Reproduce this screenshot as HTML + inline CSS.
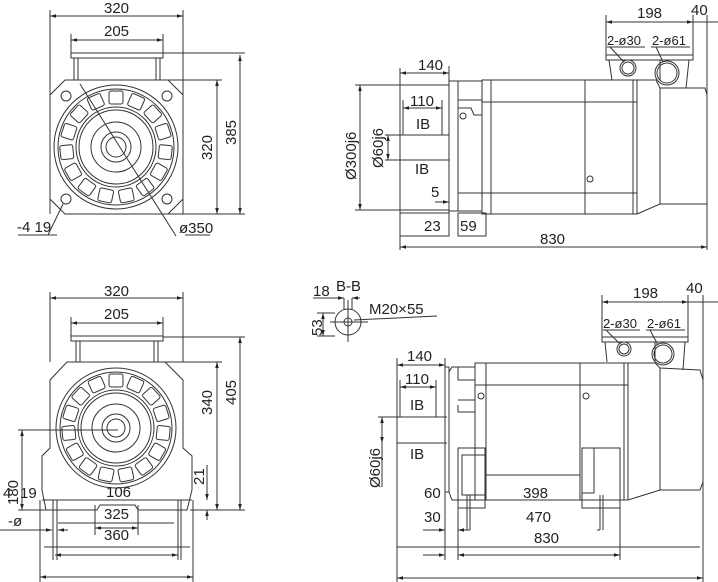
<!DOCTYPE html>
<html><head><meta charset="utf-8"><style>
html,body{margin:0;padding:0;background:#fff;}
svg{display:block;}
text{font-family:"Liberation Sans",sans-serif;fill:#222;font-size:15px;}
.s{font-size:13px;}
</style></head><body>
<svg width="718" height="582" viewBox="0 0 718 582" xmlns="http://www.w3.org/2000/svg">
<defs>
<marker id="a" viewBox="0 0 10 10" refX="10" refY="5" markerWidth="6" markerHeight="6" orient="auto-start-reverse"><path d="M0,2 L10,5 L0,8z" fill="#222"/></marker>
</defs>
<g stroke="#333" stroke-width="1" fill="none">
<!-- ===== TOP LEFT ===== -->
<line x1="50" y1="10" x2="50" y2="214"/><line x1="183" y1="10" x2="183" y2="214"/>
<line x1="50" y1="16" x2="183" y2="16" marker-start="url(#a)" marker-end="url(#a)"/>
<line x1="71" y1="34" x2="71" y2="55"/><line x1="163" y1="34" x2="163" y2="55"/>
<line x1="71" y1="40" x2="163" y2="40" marker-start="url(#a)" marker-end="url(#a)"/>
<rect x="71" y="53" width="92" height="5"/>
<line x1="74" y1="58" x2="74" y2="80"/><line x1="78" y1="58" x2="78" y2="80"/>
<line x1="156" y1="58" x2="156" y2="80"/><line x1="160" y1="58" x2="160" y2="80"/>
<polygon points="65,80 168,80 183,95 183,199 168,214 65,214 50,199 50,95"/>
<line x1="163" y1="53" x2="245" y2="53"/><line x1="168" y1="80" x2="222" y2="80"/><line x1="168" y1="214" x2="245" y2="214"/>
<line x1="217" y1="80" x2="217" y2="214" marker-start="url(#a)" marker-end="url(#a)"/>
<line x1="240" y1="55" x2="240" y2="214" marker-start="url(#a)" marker-end="url(#a)"/>
<circle cx="116" cy="147" r="62"/><circle cx="116" cy="147" r="58"/>
<circle cx="116" cy="147" r="40"/><circle cx="116" cy="147" r="37"/>
<circle cx="116" cy="147" r="25"/><circle cx="116" cy="147" r="15"/><circle cx="116" cy="147" r="10"/>
<g stroke-width="1.2">
<circle cx="116" cy="147" r="49" stroke-dasharray="12 5" stroke-width="9" stroke="#555" opacity="0.0"/>
</g>
<circle cx="66" cy="96" r="5"/><circle cx="167" cy="96" r="5"/><circle cx="66" cy="199" r="5"/><circle cx="167" cy="199" r="5"/>
<line x1="80" y1="84" x2="176" y2="236"/>
<line x1="18" y1="235" x2="57" y2="235"/><line x1="48" y1="235" x2="63" y2="204"/>
<line x1="185" y1="235" x2="210" y2="235"/>
<!-- ===== TOP RIGHT ===== -->
<line x1="400" y1="68" x2="400" y2="250"/>
<line x1="400" y1="73" x2="449" y2="73" marker-start="url(#a)" marker-end="url(#a)"/>
<line x1="449" y1="66" x2="449" y2="236"/>
<line x1="403" y1="100" x2="403" y2="135"/>
<line x1="403" y1="108" x2="442" y2="108" marker-start="url(#a)" marker-end="url(#a)"/>
<line x1="442" y1="100" x2="442" y2="135"/>
<line x1="400" y1="135" x2="449" y2="135"/><line x1="400" y1="160" x2="449" y2="160"/>
<line x1="355" y1="85" x2="449" y2="85"/><line x1="355" y1="210" x2="449" y2="210"/>
<line x1="360" y1="85" x2="360" y2="210" marker-start="url(#a)" marker-end="url(#a)"/>
<line x1="385" y1="135" x2="400" y2="135"/><line x1="385" y1="160" x2="400" y2="160"/>
<line x1="388" y1="135" x2="388" y2="160" marker-start="url(#a)" marker-end="url(#a)"/>
<rect x="449" y="81" width="9" height="130"/>
<rect x="458" y="81" width="24" height="130"/>
<line x1="458" y1="100" x2="482" y2="100"/><line x1="458" y1="193" x2="482" y2="193"/>
<path d="M458,108 L471,108 L474,115 L482,115"/><circle cx="463" cy="116" r="3"/>
<rect x="482" y="80" width="155" height="134"/>
<line x1="491" y1="80" x2="491" y2="214"/><line x1="585" y1="80" x2="585" y2="214"/><line x1="633" y1="80" x2="633" y2="214"/>
<line x1="482" y1="102" x2="637" y2="102"/><line x1="482" y1="193" x2="637" y2="193"/>
<circle cx="590" cy="179" r="3"/>
<path d="M637,80 L656,80 L660,88 L705,88 L707,95 L707,204 L660,204 L637,214"/>
<line x1="660" y1="88" x2="660" y2="204"/>
<rect x="606" y="55" width="87" height="5"/>
<path d="M609,60 L612,80 M689,60 L686,88 M660,80 L660,60"/>
<circle cx="628" cy="68" r="8"/><circle cx="628" cy="68" r="6"/>
<circle cx="667" cy="73" r="12"/><circle cx="667" cy="73" r="10"/>
<line x1="606" y1="15" x2="606" y2="55"/><line x1="693" y1="15" x2="693" y2="55"/><line x1="707" y1="15" x2="707" y2="250"/>
<line x1="606" y1="22" x2="693" y2="22" marker-start="url(#a)" marker-end="url(#a)"/>
<line x1="693" y1="22" x2="718" y2="22"/>
<line x1="607" y1="47" x2="645" y2="47"/><line x1="651" y1="47" x2="690" y2="47"/>
<line x1="610" y1="47" x2="624" y2="62"/><line x1="656" y1="47" x2="663" y2="62"/>
<rect x="400" y="213" width="49" height="23"/><rect x="458" y="213" width="28" height="23"/>
<line x1="435" y1="202" x2="449" y2="202" marker-end="url(#a)"/>
<line x1="400" y1="247" x2="707" y2="247" marker-start="url(#a)" marker-end="url(#a)"/>
<!-- ===== BOTTOM LEFT ===== -->
<line x1="50" y1="292" x2="50" y2="362"/><line x1="183" y1="292" x2="183" y2="362"/>
<line x1="50" y1="298" x2="183" y2="298" marker-start="url(#a)" marker-end="url(#a)"/>
<line x1="71" y1="317" x2="71" y2="338"/><line x1="163" y1="317" x2="163" y2="338"/>
<line x1="71" y1="323" x2="163" y2="323" marker-start="url(#a)" marker-end="url(#a)"/>
<rect x="71" y="336" width="92" height="5"/>
<line x1="76" y1="341" x2="76" y2="362"/><line x1="80" y1="341" x2="80" y2="362"/>
<line x1="154" y1="341" x2="154" y2="362"/><line x1="158" y1="341" x2="158" y2="362"/>
<path d="M67,362 L165,362 L183,380 L183,448 L192,456 L192,490 L187,510 L138,510 L135,505 L100,505 L97,510 L46,510 L42,490 L42,456 L50,448 L50,380 Z"/>
<line x1="42" y1="500" x2="192" y2="500"/>
<line x1="163" y1="337" x2="245" y2="337"/><line x1="165" y1="362" x2="222" y2="362"/><line x1="190" y1="510" x2="245" y2="510"/>
<line x1="217" y1="362" x2="217" y2="510" marker-start="url(#a)" marker-end="url(#a)"/>
<line x1="240" y1="337" x2="240" y2="510" marker-start="url(#a)" marker-end="url(#a)"/>
<line x1="207" y1="465" x2="207" y2="500" marker-end="url(#a)"/><line x1="207" y1="510" x2="207" y2="520" marker-start="url(#a)"/>
<circle cx="116" cy="428" r="60"/><circle cx="116" cy="428" r="56"/>
<circle cx="116" cy="428" r="38"/><circle cx="116" cy="428" r="35"/>
<circle cx="116" cy="428" r="24"/><circle cx="116" cy="428" r="14"/><circle cx="116" cy="428" r="9"/>
<line x1="18" y1="430" x2="118" y2="430"/>
<line x1="22" y1="430" x2="22" y2="510" marker-start="url(#a)" marker-end="url(#a)"/>
<line x1="18" y1="510" x2="46" y2="510"/>
<line x1="40" y1="500" x2="40" y2="582"/><line x1="193" y1="500" x2="193" y2="582"/>
<line x1="53" y1="500" x2="53" y2="560"/><line x1="57" y1="500" x2="57" y2="560"/>
<line x1="178" y1="500" x2="178" y2="560"/><line x1="181" y1="500" x2="181" y2="560"/>
<line x1="95" y1="505" x2="95" y2="535"/><line x1="138" y1="505" x2="138" y2="535"/>
<line x1="95" y1="528" x2="138" y2="528" marker-start="url(#a)" marker-end="url(#a)"/>
<line x1="0" y1="530" x2="52" y2="530" marker-end="url(#a)"/><line x1="58" y1="530" x2="68" y2="530" marker-start="url(#a)"/>
<line x1="58" y1="523" x2="174" y2="523"/>
<line x1="44" y1="547" x2="190" y2="547"/>
<line x1="55" y1="555" x2="178" y2="555" marker-start="url(#a)" marker-end="url(#a)"/>
<line x1="40" y1="577" x2="193" y2="577" marker-start="url(#a)" marker-end="url(#a)"/>
<!-- ===== BOTTOM RIGHT ===== -->
<circle cx="348" cy="322" r="13"/><circle cx="348" cy="322" r="4"/>
<line x1="348" y1="300" x2="348" y2="342"/><line x1="330" y1="322" x2="368" y2="322"/>
<line x1="344" y1="298" x2="344" y2="309"/><line x1="352" y1="298" x2="352" y2="309"/>
<line x1="313" y1="298" x2="344" y2="298" marker-end="url(#a)"/><line x1="352" y1="298" x2="360" y2="298" marker-start="url(#a)"/>
<line x1="354" y1="320" x2="437" y2="316"/>
<line x1="317" y1="313" x2="335" y2="313"/><line x1="317" y1="336" x2="335" y2="336"/>
<line x1="323" y1="313" x2="323" y2="336" marker-start="url(#a)" marker-end="url(#a)"/>
<line x1="397" y1="358" x2="397" y2="582"/>
<line x1="397" y1="365" x2="445" y2="365" marker-start="url(#a)" marker-end="url(#a)"/>
<line x1="445" y1="358" x2="445" y2="560"/>
<line x1="400" y1="380" x2="400" y2="417"/><line x1="436" y1="380" x2="436" y2="417"/>
<line x1="400" y1="387" x2="436" y2="387" marker-start="url(#a)" marker-end="url(#a)"/>
<line x1="378" y1="417" x2="447" y2="417"/><line x1="397" y1="443" x2="447" y2="443"/>
<line x1="382" y1="417" x2="382" y2="487" /><line x1="382" y1="417" x2="382" y2="443" marker-start="url(#a)" marker-end="url(#a)"/>
<rect x="445" y="367" width="4" height="125"/>
<path d="M449,372 L452,367 L475,367 L475,500 L452,500 L449,492"/>
<path d="M458,367 L458,380 L475,380 M458,400 L475,400 M458,405 L458,412 L475,412"/>
<rect x="475" y="363" width="153" height="137"/>
<line x1="486" y1="363" x2="486" y2="500"/><line x1="580" y1="363" x2="580" y2="500"/>
<line x1="475" y1="385" x2="628" y2="385"/><line x1="486" y1="475" x2="580" y2="475"/>
<circle cx="481" cy="396" r="3"/><circle cx="586" cy="396" r="3"/>
<path d="M628,363 L655,363 L660,368 L700,370 L703,380 L703,482 L700,490 L660,490 L628,500"/>
<line x1="624" y1="363" x2="624" y2="500"/><line x1="660" y1="368" x2="660" y2="490"/>
<rect x="458" y="448" width="27" height="60"/><rect x="462" y="455" width="23" height="40"/>
<rect x="582" y="448" width="38" height="60"/><rect x="582" y="448" width="12" height="45"/>
<line x1="463" y1="500" x2="620" y2="500"/>
<line x1="467" y1="495" x2="467" y2="530"/><line x1="470" y1="495" x2="470" y2="530"/>
<line x1="600" y1="495" x2="600" y2="530"/><line x1="603" y1="495" x2="603" y2="530"/>
<line x1="458" y1="508" x2="458" y2="560"/><line x1="620" y1="508" x2="620" y2="560"/>
<rect x="602" y="337" width="86" height="5"/>
<path d="M605,342 L607,362 M685,342 L683,370 M655,362 L655,342"/>
<circle cx="624" cy="349" r="7"/><circle cx="624" cy="349" r="5"/>
<circle cx="663" cy="354" r="11"/><circle cx="663" cy="354" r="9"/>
<line x1="602" y1="295" x2="602" y2="337"/><line x1="688" y1="295" x2="688" y2="337"/><line x1="703" y1="295" x2="703" y2="582"/>
<line x1="602" y1="302" x2="688" y2="302" marker-start="url(#a)" marker-end="url(#a)"/>
<line x1="688" y1="302" x2="718" y2="302"/>
<line x1="603" y1="330" x2="640" y2="330"/><line x1="646" y1="330" x2="685" y2="330"/>
<line x1="606" y1="330" x2="620" y2="344"/><line x1="650" y1="330" x2="658" y2="345"/>
<line x1="423" y1="530" x2="445" y2="530" marker-end="url(#a)"/><line x1="458" y1="530" x2="470" y2="530" marker-start="url(#a)"/>
<line x1="597" y1="530" x2="600" y2="530"/>
<line x1="397" y1="547" x2="700" y2="547"/>
<line x1="423" y1="555" x2="445" y2="555" marker-end="url(#a)"/><line x1="458" y1="555" x2="620" y2="555" marker-start="url(#a)" marker-end="url(#a)"/>
<line x1="397" y1="578" x2="703" y2="578" marker-start="url(#a)" marker-end="url(#a)"/>
</g>
<!-- window ring top-left -->
<g fill="none" stroke="#333" stroke-width="1">
<g transform="translate(116,147)">
<rect x="-7" y="-56" width="14" height="13" rx="2" transform="rotate(0)"/>
<rect x="-7" y="-56" width="14" height="13" rx="2" transform="rotate(24)"/>
<rect x="-7" y="-56" width="14" height="13" rx="2" transform="rotate(48)"/>
<rect x="-7" y="-56" width="14" height="13" rx="2" transform="rotate(72)"/>
<rect x="-7" y="-56" width="14" height="13" rx="2" transform="rotate(96)"/>
<rect x="-7" y="-56" width="14" height="13" rx="2" transform="rotate(120)"/>
<rect x="-7" y="-56" width="14" height="13" rx="2" transform="rotate(144)"/>
<rect x="-7" y="-56" width="14" height="13" rx="2" transform="rotate(168)"/>
<rect x="-7" y="-56" width="14" height="13" rx="2" transform="rotate(192)"/>
<rect x="-7" y="-56" width="14" height="13" rx="2" transform="rotate(216)"/>
<rect x="-7" y="-56" width="14" height="13" rx="2" transform="rotate(240)"/>
<rect x="-7" y="-56" width="14" height="13" rx="2" transform="rotate(264)"/>
<rect x="-7" y="-56" width="14" height="13" rx="2" transform="rotate(288)"/>
<rect x="-7" y="-56" width="14" height="13" rx="2" transform="rotate(312)"/>
<rect x="-7" y="-56" width="14" height="13" rx="2" transform="rotate(336)"/>
</g>
<g transform="translate(116,428)">
<rect x="-7" y="-54" width="14" height="13" rx="2" transform="rotate(0)"/>
<rect x="-7" y="-54" width="14" height="13" rx="2" transform="rotate(24)"/>
<rect x="-7" y="-54" width="14" height="13" rx="2" transform="rotate(48)"/>
<rect x="-7" y="-54" width="14" height="13" rx="2" transform="rotate(72)"/>
<rect x="-7" y="-54" width="14" height="13" rx="2" transform="rotate(96)"/>
<rect x="-7" y="-54" width="14" height="13" rx="2" transform="rotate(120)"/>
<rect x="-7" y="-54" width="14" height="13" rx="2" transform="rotate(144)"/>
<rect x="-7" y="-54" width="14" height="13" rx="2" transform="rotate(168)"/>
<rect x="-7" y="-54" width="14" height="13" rx="2" transform="rotate(192)"/>
<rect x="-7" y="-54" width="14" height="13" rx="2" transform="rotate(216)"/>
<rect x="-7" y="-54" width="14" height="13" rx="2" transform="rotate(240)"/>
<rect x="-7" y="-54" width="14" height="13" rx="2" transform="rotate(264)"/>
<rect x="-7" y="-54" width="14" height="13" rx="2" transform="rotate(288)"/>
<rect x="-7" y="-54" width="14" height="13" rx="2" transform="rotate(312)"/>
<rect x="-7" y="-54" width="14" height="13" rx="2" transform="rotate(336)"/>
</g>
</g>
<!-- texts -->
<text x="104" y="13">320</text><text x="104" y="36">205</text>
<text transform="translate(212,160) rotate(-90)">320</text>
<text transform="translate(236,145) rotate(-90)">385</text>
<text x="17" y="232">-4  19</text><text x="179" y="233">ø350</text>
<text x="418" y="70">140</text><text x="410" y="106">110</text>
<text x="416" y="129">IB</text><text x="415" y="174">IB</text>
<text transform="translate(356,180) rotate(-90)">Ø300j6</text>
<text transform="translate(383,168) rotate(-90)">Ø60j6</text>
<text x="431" y="197">5</text><text x="424" y="231">23</text><text x="460" y="231">59</text>
<text x="540" y="244">830</text>
<text x="637" y="18">198</text><text x="691" y="15">40</text>
<text class="s" x="607" y="45">2-ø30</text><text class="s" x="652" y="45">2-ø61</text>
<text x="104" y="296">320</text><text x="104" y="319">205</text>
<text transform="translate(236,405) rotate(-90)">405</text>
<text transform="translate(212,415) rotate(-90)">340</text>
<text transform="translate(204,485) rotate(-90)">21</text>
<text transform="translate(18,505) rotate(-90)">180</text>
<text x="3" y="498">4</text><text x="20" y="498">19</text>
<text x="106" y="497">106</text><text x="104" y="519">325</text><text x="104" y="540">360</text>
<text x="8" y="526">-ø</text>
<text x="313" y="296">18</text><text x="336" y="291">B-B</text><text x="369" y="314">M20×55</text>
<text transform="translate(322,336) rotate(-90)">53</text>
<text x="407" y="361">140</text><text x="405" y="384">110</text>
<text x="410" y="410">IB</text><text x="410" y="459">IB</text>
<text transform="translate(380,488) rotate(-90)">Ø60j6</text>
<text x="424" y="498">60</text><text x="523" y="498">398</text>
<text x="424" y="522">30</text><text x="526" y="522">470</text>
<text x="534" y="543">830</text>
<text x="633" y="298">198</text><text x="686" y="293">40</text>
<text class="s" x="603" y="328">2-ø30</text><text class="s" x="647" y="328">2-ø61</text>
</svg>
</body></html>
